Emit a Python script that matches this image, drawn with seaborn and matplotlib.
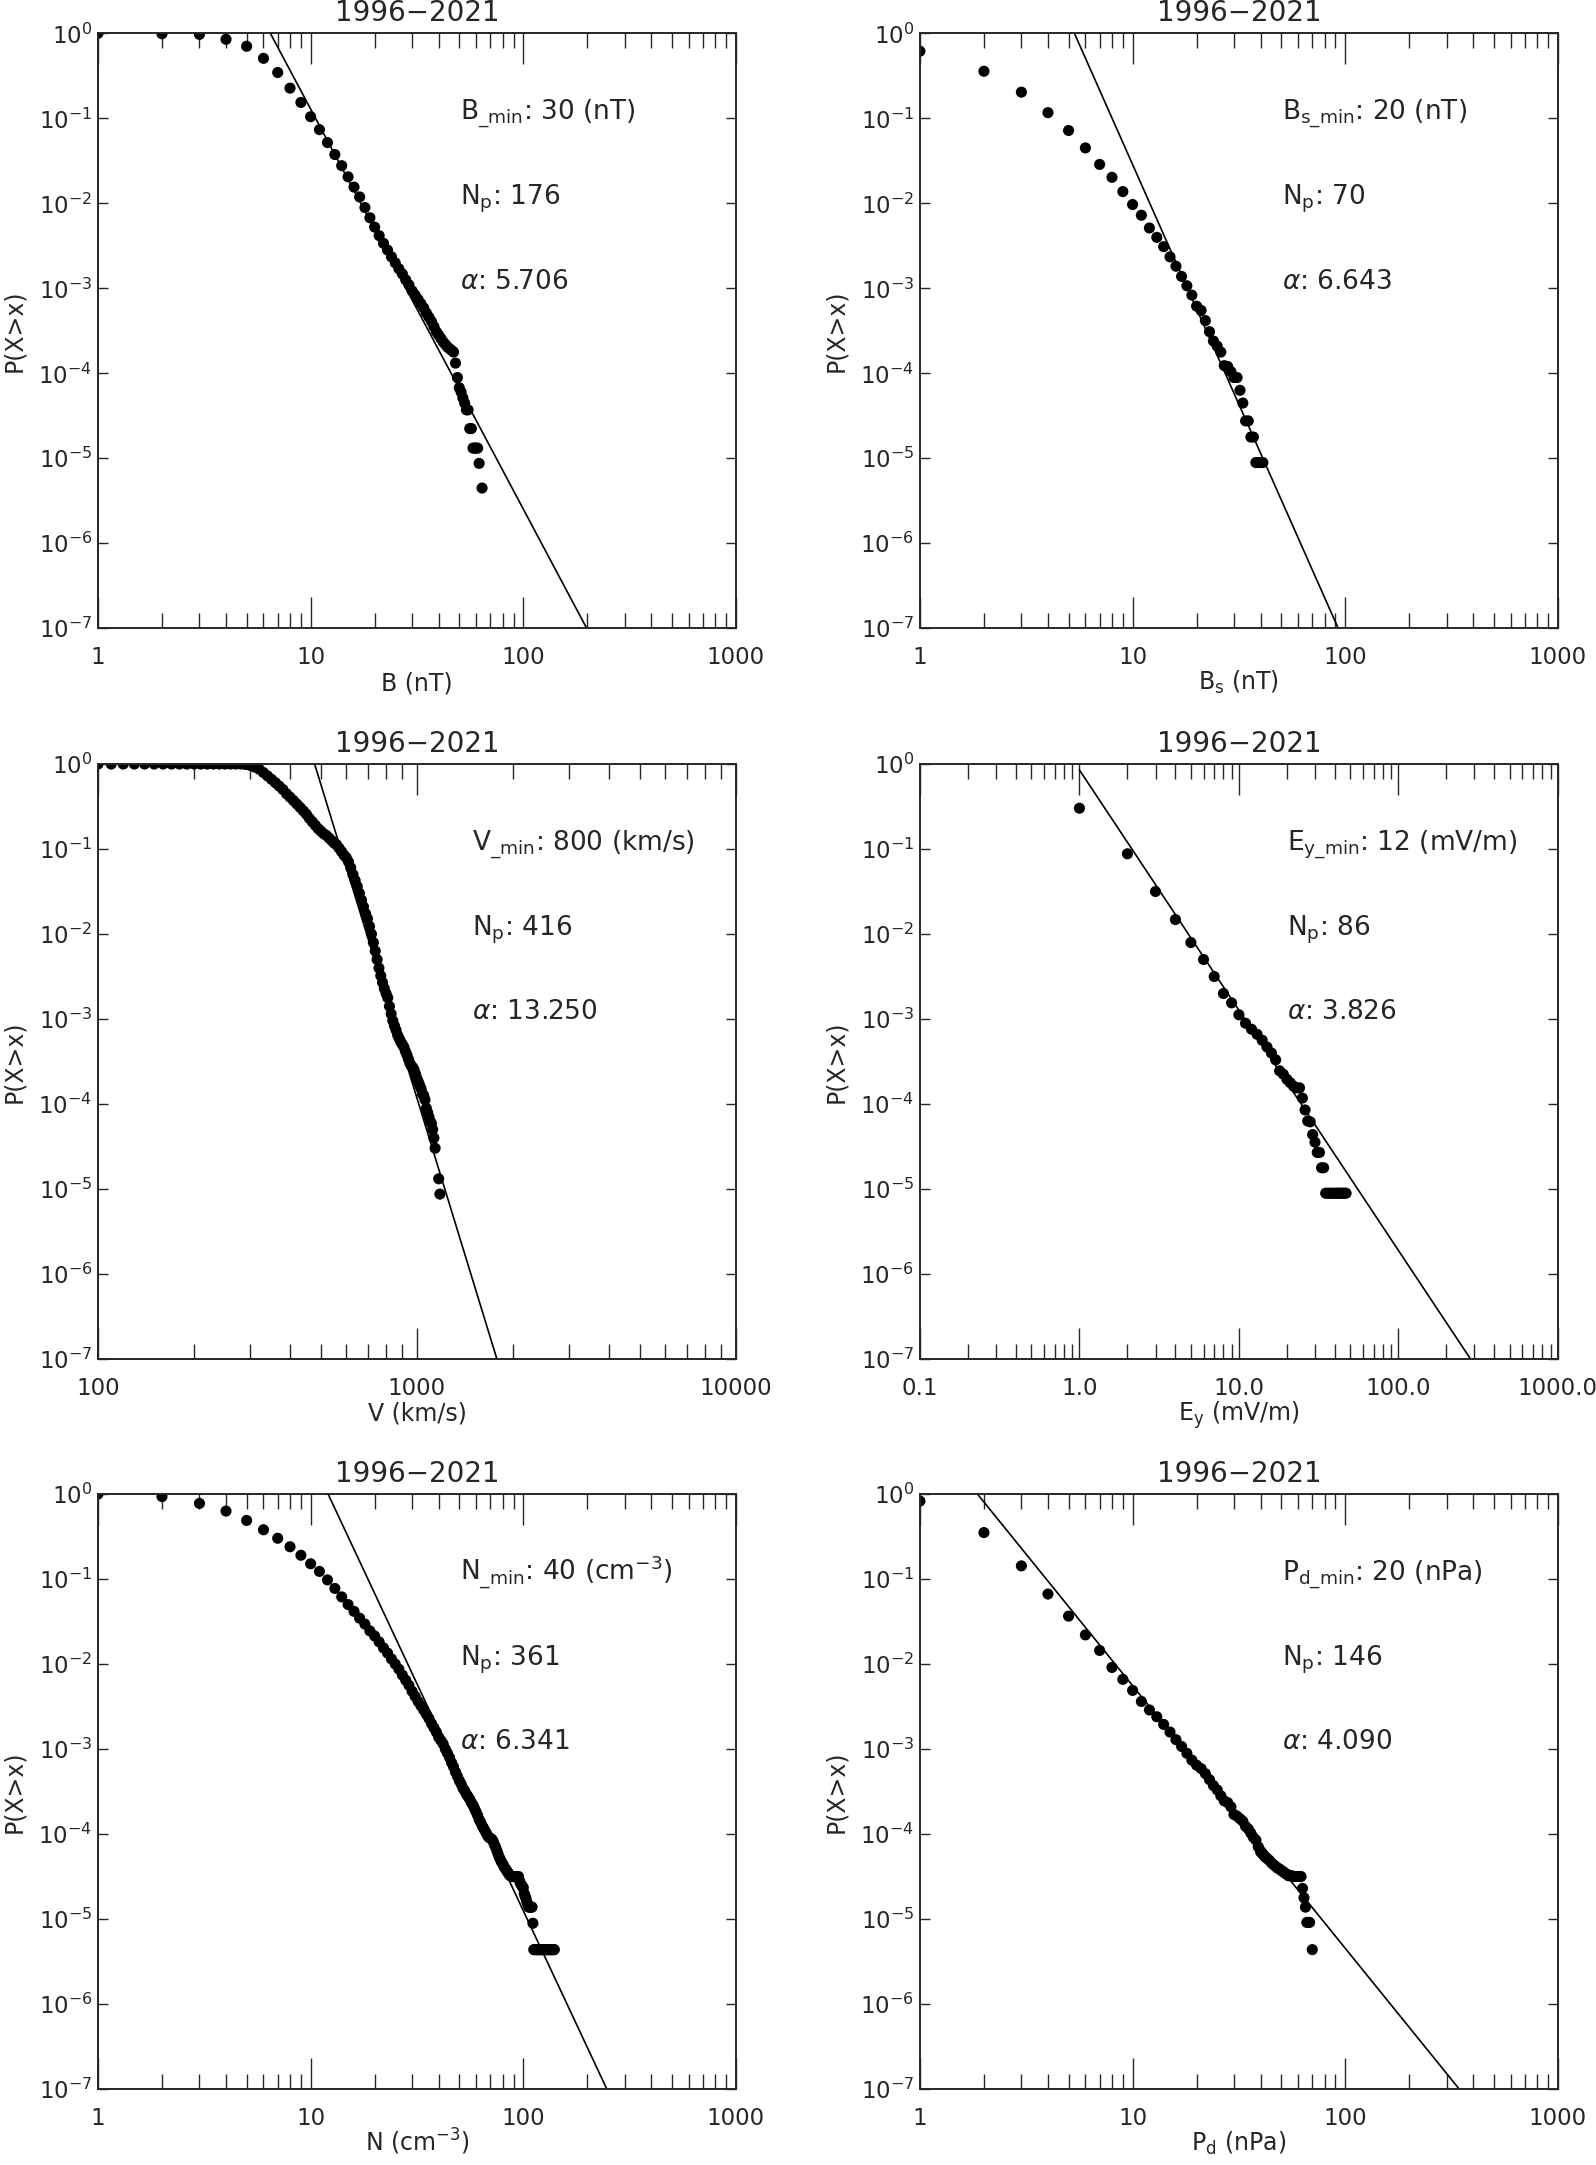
import numpy as np
import pandas as pd
import matplotlib
matplotlib.use("Agg")
import matplotlib.pyplot as plt
import seaborn as sns
from matplotlib.ticker import FixedLocator, FixedFormatter, LogLocator, NullFormatter, NullLocator

sns.set_style("ticks")
plt.rcParams['font.family'] = ['DejaVu Sans']
plt.rcParams['mathtext.fontset'] = 'dejavusans'
plt.rcParams['axes.linewidth'] = 1.4

# --- B (nT)
b_x = [1, 2, 3, 4, 5, 6, 7, 8, 9, 10, 11, 12, 13, 14, 15, 16, 17, 18, 19, 20,
       21, 22, 23, 24, 25, 26, 27, 28, 29, 30, 31, 32, 33, 34, 35, 36, 37, 38, 39, 40,
       41, 42, 43, 44, 45, 46, 47, 48, 49, 50, 51, 52, 53, 54, 55, 56, 57, 58, 59, 60,
       61, 62, 64]
b_logp = [0.0, -0.005, -0.012, -0.07, -0.152, -0.294, -0.461, -0.645, -0.813, -0.981,
          -1.133, -1.285, -1.426, -1.557, -1.688, -1.809, -1.925, -2.05, -2.17, -2.28,
          -2.38, -2.47, -2.55, -2.63, -2.70, -2.77, -2.83, -2.90, -2.96, -3.03,
          -3.08, -3.13, -3.18, -3.23, -3.29, -3.34, -3.39, -3.45, -3.51, -3.55,
          -3.59, -3.63, -3.66, -3.69, -3.71, -3.73, -3.75, -3.88, -4.05, -4.17,
          -4.22, -4.29, -4.35, -4.43, -4.43, -4.65, -4.65, -4.88, -4.88, -4.88,
          -4.88, -5.06, -5.35]

# --- Bs (nT)
bs_x = [1, 2, 3, 4, 5, 6, 7, 8, 9, 10, 11, 12, 13, 14, 15, 16, 17, 18, 19, 20,
        21, 22, 23, 24, 25, 26, 27, 28, 29, 30, 31, 32, 33, 34, 35, 36, 37, 38, 39, 40, 41]
bs_logp = [-0.21, -0.446, -0.692, -0.933, -1.143, -1.348, -1.542, -1.694, -1.862, -2.014,
           -2.14, -2.29, -2.40, -2.51, -2.63, -2.74, -2.86, -2.97, -3.08, -3.21,
           -3.26, -3.38, -3.51, -3.62, -3.68, -3.75, -3.91, -3.92, -3.98, -4.05,
           -4.05, -4.20, -4.35, -4.56, -4.56, -4.75, -4.75, -5.05, -5.05, -5.05, -5.05]

# --- V (km/s)
v_x = [100, 110, 120, 130, 140, 150, 160, 170, 180, 190, 200, 210, 220, 230, 240,
       250, 260, 270, 280, 290, 300, 310, 320, 330, 340, 350, 360, 370, 380, 390,
       400, 410, 420, 430, 440, 450, 460, 470, 480, 490, 500, 510, 520, 530, 540,
       550, 560, 570, 580, 590, 600, 610, 620, 630, 640, 650, 660, 670, 680, 690,
       700, 710, 720, 730, 740, 750, 760, 770, 780, 790, 800, 810, 820, 830, 840,
       850, 860, 870, 880, 890, 900, 910, 920, 930, 940, 950, 960, 970, 980, 990,
       1000, 1010, 1020, 1030, 1040, 1050, 1060, 1070, 1080, 1090, 1100, 1110, 1120,
       1130, 1140, 1170, 1180]
v_logp = [0.0, 0.0, 0.0, 0.0, 0.0, 0.0, 0.0, 0.0, 0.0, 0.0, 0.0, 0.0, 0.0, 0.0, 0.0,
          0.0, 0.0, 0.0, 0.0,
          -0.005, -0.016, -0.035, -0.06, -0.10, -0.14, -0.18, -0.22, -0.26, -0.30,
          -0.35, -0.39, -0.43, -0.47, -0.51, -0.55, -0.59, -0.64, -0.68, -0.72,
          -0.76, -0.79, -0.82, -0.84, -0.87, -0.90, -0.93, -0.95, -0.99, -1.03,
          -1.07, -1.10, -1.15, -1.22, -1.30, -1.37, -1.44, -1.52, -1.60, -1.68,
          -1.76, -1.82, -1.91, -2.00, -2.10, -2.20, -2.30, -2.40, -2.49, -2.57,
          -2.64, -2.70, -2.75, -2.85, -2.94, -3.02, -3.08, -3.13, -3.19, -3.23,
          -3.27, -3.30, -3.33, -3.38, -3.42, -3.47, -3.52, -3.55, -3.57, -3.60,
          -3.65, -3.70, -3.74, -3.78, -3.82, -3.88, -3.90, -3.95, -4.05, -4.10,
          -4.15, -4.20, -4.23, -4.30, -4.40, -4.52,
          -4.88, -5.06]

# --- Ey (mV/m)
ey_x = [1, 2, 3, 4, 5, 6, 7, 8, 9, 10, 11, 12, 13, 14, 15, 16, 17, 18, 19, 20,
        21, 22, 23, 24, 25, 26, 27, 28, 29, 30, 31, 32, 33, 34, 35, 36, 37, 38, 39, 40,
        41, 42, 43, 44, 45, 46, 47]
ey_logp = [-0.52, -1.056, -1.50, -1.83, -2.10, -2.30, -2.50, -2.70, -2.81, -2.95,
           -3.05, -3.12, -3.18, -3.25, -3.33, -3.40, -3.48, -3.61, -3.65, -3.71,
           -3.75, -3.79, -3.81, -3.81, -3.93, -4.07, -4.20, -4.21, -4.36, -4.45,
           -4.57, -4.57, -4.75, -4.75, -5.05, -5.05, -5.05, -5.05, -5.05, -5.05,
           -5.05, -5.05, -5.05, -5.05, -5.05, -5.05, -5.05]

# --- N (cm^-3)
n_x = [1, 2, 3, 4, 5, 6, 7, 8, 9, 10, 11, 12, 13, 14, 15, 16, 17, 18, 19, 20,
       21, 22, 23, 24, 25, 26, 27, 28, 29, 30, 31, 32, 33, 34, 35, 36, 37, 38, 39, 40,
       41, 42, 43, 44, 45, 46, 47, 48, 49, 50, 51, 52, 53, 54, 55, 56, 57, 58, 59, 60,
       61, 62, 63, 64, 65, 66, 67, 68, 69, 70, 71, 72, 73, 74, 75, 76, 77, 78, 79, 80,
       81, 82, 83, 84, 85, 86, 87, 88, 89, 90, 91, 92, 93, 94, 95, 96, 97, 98, 99, 100,
       101, 102, 103, 104, 105, 106, 107, 108, 109, 110, 111, 112, 113, 114, 115, 116,
       117, 118, 119, 120, 121, 122, 123, 124, 125, 126, 127, 128, 129, 130, 131, 132,
       133, 134, 135, 136, 137, 138, 139, 140]
n_logp = [0.0, -0.03, -0.11, -0.20, -0.31, -0.42, -0.52, -0.62, -0.72, -0.82,
          -0.91, -1.01, -1.11, -1.21, -1.30, -1.38, -1.46, -1.53, -1.61, -1.67,
          -1.74, -1.81, -1.87, -1.94, -2.00, -2.06, -2.13, -2.19, -2.25, -2.32,
          -2.38, -2.44, -2.49, -2.54, -2.59, -2.64, -2.70, -2.75, -2.80, -2.86,
          -2.90, -2.94, -3.00, -3.05, -3.10, -3.16, -3.21, -3.27, -3.32, -3.37,
          -3.41, -3.46, -3.49, -3.53, -3.56, -3.59, -3.63, -3.66, -3.70, -3.74,
          -3.78, -3.83, -3.86, -3.90, -3.93, -3.96, -3.99, -4.02, -4.04, -4.05,
          -4.06, -4.08, -4.12, -4.15, -4.19, -4.23, -4.27, -4.30, -4.33, -4.35,
          -4.38, -4.40, -4.42, -4.44, -4.46, -4.48, -4.49, -4.50, -4.50, -4.50,
          -4.50, -4.50, -4.50, -4.50, -4.50, -4.55, -4.58, -4.60, -4.62, -4.63,
          -4.70, -4.73, -4.76, -4.80, -4.83, -4.86, -4.86, -4.86, -4.86, -4.86,
          -5.05, -5.36, -5.36, -5.36, -5.36, -5.36, -5.36, -5.36, -5.36, -5.36,
          -5.36, -5.36, -5.36, -5.36, -5.36, -5.36, -5.36, -5.36, -5.36, -5.36,
          -5.36, -5.36, -5.36, -5.36, -5.36, -5.36, -5.36, -5.36, -5.36, -5.36]

# --- Pd (nPa)
pd_x = [1, 2, 3, 4, 5, 6, 7, 8, 9, 10, 11, 12, 13, 14, 15, 16, 17, 18, 19, 20,
        21, 22, 23, 24, 25, 26, 27, 28, 29, 30, 31, 32, 33, 34, 35, 36, 37, 38, 39, 40,
        41, 42, 43, 44, 45, 46, 47, 48, 49, 50, 51, 52, 53, 54, 55, 56, 57, 58, 59, 60,
        61, 62, 63, 64, 65, 66, 67, 68, 70]
pd_logp = [-0.083, -0.453, -0.845, -1.176, -1.436, -1.657, -1.84, -2.04, -2.18, -2.31,
           -2.44, -2.54, -2.62, -2.71, -2.80, -2.89, -2.97, -3.05, -3.13, -3.19,
           -3.23, -3.29, -3.36, -3.43, -3.48, -3.55, -3.61, -3.63, -3.68, -3.77,
           -3.79, -3.82, -3.85, -3.91, -3.94, -3.99, -4.04, -4.07, -4.15, -4.21,
           -4.24, -4.27, -4.29, -4.31, -4.34, -4.36, -4.38, -4.40, -4.41, -4.43,
           -4.44, -4.46, -4.47, -4.49, -4.49, -4.49, -4.50, -4.50, -4.50, -4.50,
           -4.50, -4.50, -4.64, -4.75, -4.86, -5.04, -5.04, -5.04, -5.36]

# power-law fits: alpha, log10 amplitude of P(X>x), x range of the drawn line
alphas = [5.706, 6.643, 13.250, 3.826, 6.341, 4.090]
fit_logamp = [3.815, 4.10, 32.82, -0.07, 5.78, 0.836]
fit_xrange = [[1, 1000], [1, 1000], [100, 10000], [1, 1000], [1, 1000], [1, 1000]]
npoints = [176, 70, 416, 86, 361, 146]

xlabels = ["B (nT)", r"B$_\mathrm{s}$ (nT)", "V (km/s)", r"E$_\mathrm{y}$ (mV/m)",
           r"N (cm$^{-3}$)", r"P$_\mathrm{d}$ (nPa)"]
min_texts = [r"B$_{\mathrm{\_min}}$: 30 (nT)", r"B$_{\mathrm{s\_min}}$: 20 (nT)",
             r"V$_{\mathrm{\_min}}$: 800 (km/s)", r"E$_{\mathrm{y\_min}}$: 12 (mV/m)",
             r"N$_{\mathrm{\_min}}$: 40 (cm$^{-3}$)", r"P$_{\mathrm{d\_min}}$: 20 (nPa)"]
text_x = [0.567, 0.567, 0.587, 0.575, 0.567, 0.567]

xticks = [[1, 10, 100, 1000], [1, 10, 100, 1000], [100, 1000, 10000],
          [0.1, 1, 10, 100, 1000], [1, 10, 100, 1000], [1, 10, 100, 1000]]
xticklabels = [["1", "10", "100", "1000"], ["1", "10", "100", "1000"],
               ["100", "1000", "10000"],
               ["0.1", "1.0", "10.0", "100.0", "1000.0"],
               ["1", "10", "100", "1000"], ["1", "10", "100", "1000"]]
yticks = [1e-7, 1e-6, 1e-5, 1e-4, 1e-3, 1e-2, 1e-1, 1]
yticklabels = [r"10$^{-7}$", r"10$^{-6}$", r"10$^{-5}$", r"10$^{-4}$",
               r"10$^{-3}$", r"10$^{-2}$", r"10$^{-1}$", r"10$^{0}$"]

xs = [b_x, bs_x, v_x, ey_x, n_x, pd_x]
logps = [b_logp, bs_logp, v_logp, ey_logp, n_logp, pd_logp]

fig = plt.figure(figsize=(15.96, 21.65), dpi=100)
lefts = [0.0614, 0.5764]
bottoms = [0.7098, 0.3723, 0.0351]
w, h = 0.3997, 0.2748

for i in range(6):
    ax = fig.add_axes([lefts[i % 2], bottoms[i // 2], w, h])
    df = pd.DataFrame({"x": xs[i], "p": 10.0 ** np.array(logps[i])})
    sns.scatterplot(data=df, x="x", y="p", ax=ax, color="black", s=64,
                    edgecolor="none", linewidth=0, legend=False)

    fx = np.array(fit_xrange[i], dtype=float)
    fy = 10.0 ** (fit_logamp[i] - (alphas[i] - 1) * np.log10(fx))
    sns.lineplot(x=fx, y=fy, ax=ax, color="black", linewidth=1.2, sort=False)

    ax.set_xscale("log")
    ax.set_yscale("log")
    ax.set_xlim(xticks[i][0], xticks[i][-1])
    ax.set_ylim(1e-7, 1)

    ax.xaxis.set_major_locator(FixedLocator(xticks[i]))
    ax.xaxis.set_major_formatter(FixedFormatter(xticklabels[i]))
    ax.xaxis.set_minor_locator(LogLocator(base=10, subs=range(2, 10), numticks=50))
    ax.xaxis.set_minor_formatter(NullFormatter())
    ax.yaxis.set_major_locator(FixedLocator(yticks))
    ax.yaxis.set_major_formatter(FixedFormatter(yticklabels))
    ax.yaxis.set_minor_locator(NullLocator())

    ax.tick_params(axis="x", which="major", direction="in", length=22, width=1,
                   top=True, bottom=True, labelsize=16.5, pad=13)
    ax.tick_params(axis="x", which="minor", direction="in", length=11, width=1,
                   top=True, bottom=True)
    ax.tick_params(axis="y", which="major", direction="in", length=7, width=1,
                   left=True, right=True, labelsize=16.5, pad=4)

    ax.set_xlabel(xlabels[i], fontsize=17, va="baseline")
    ax.xaxis.set_label_coords(0.5, -0.104)
    ax.set_ylabel("P(X>x)", fontsize=17)
    ax.yaxis.set_label_coords(-0.112, 0.5)
    ax.set_title("1996\u22122021", fontsize=20, pad=9)

    ax.text(text_x[i], 0.855, min_texts[i], transform=ax.transAxes,
            fontsize=19, va="baseline", ha="left")
    ax.text(text_x[i], 0.712, r"N$_\mathrm{p}$: %d" % npoints[i],
            transform=ax.transAxes, fontsize=19, va="baseline", ha="left")
    ax.text(text_x[i], 0.571, r"$\alpha$: %.3f" % alphas[i],
            transform=ax.transAxes, fontsize=19, va="baseline", ha="left")

fig.savefig("out.png", dpi=100)
